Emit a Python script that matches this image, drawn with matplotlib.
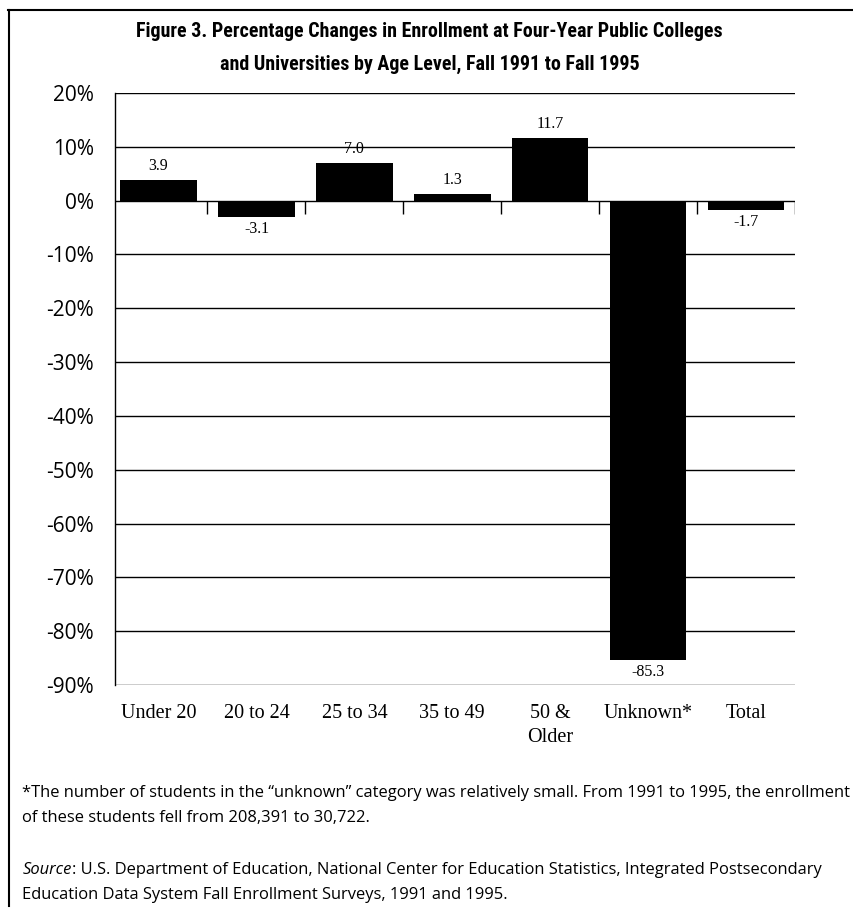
import numpy as np
import matplotlib
matplotlib.use("Agg")
import matplotlib.pyplot as plt
from matplotlib import font_manager
from matplotlib.lines import Line2D

# Data: percentage change in enrollment, fall 1991 to fall 1995
categories = ["Under 20", "20 to 24", "25 to 34", "35 to 49", "50 &\nOlder", "Unknown*", "Total"]
pct_change = [3.9, -3.1, 7.0, 1.3, 11.7, -85.3, -1.7]
y_ticks = [20, 10, 0, -10, -20, -30, -40, -50, -60, -70, -80, -90]
y_tick_labels = [f"{v}%" for v in y_ticks]

title_text = ("Figure 3. Percentage Changes in Enrollment at Four-Year Public Colleges\n"
              "and Universities by Age Level, Fall 1991 to Fall 1995")
note_line = ("*The number of students in the \u201cunknown\u201d category was relatively small. "
             "From 1991 to 1995, the enrollment\nof these students fell from 208,391 to 30,722.")
source_word = "Source"
source_line1 = (": U.S. Department of Education, National Center for Education Statistics, "
                "Integrated Postsecondary")
source_line2 = "Education Data System Fall Enrollment Surveys, 1991 and 1995."

available = {f.name for f in font_manager.fontManager.ttflist}


def pick(*names):
    for n in names:
        if n in available:
            return n
    return "DejaVu Sans"


narrow = pick("Liberation Sans Narrow", "Roboto Condensed", "Open Sans Condensed", "Liberation Sans")
sans = pick("Open Sans", "Noto Sans", "Lato", "DejaVu Sans")
serif = pick("Liberation Serif", "DejaVu Serif")

fig = plt.figure(figsize=(8.54, 9.11), dpi=100)
ax = fig.add_axes([0.1347, 0.2481, 0.7963, 0.6498])

x = np.arange(len(categories))
bars = ax.bar(x, pct_change, width=0.78, color="black", zorder=3)

ax.set_xlim(-0.444, len(categories) - 0.5)
ax.set_ylim(-90, 20)
ax.set_yticks(y_ticks)
ax.set_yticklabels(y_tick_labels, fontfamily=sans, fontsize=15)
ax.tick_params(axis="y", length=0, pad=15)
ax.grid(axis="y", color="black", linewidth=1.0, zorder=1)
ax.set_axisbelow(True)

ax.set_xticks(x)
ax.set_xticklabels(categories, fontfamily=serif, fontsize=14.5, linespacing=1.4)
ax.tick_params(axis="x", length=0, pad=13.5)
for lbl in ax.get_xticklabels():
    lbl.set_verticalalignment("top")

for side in ("top", "right", "bottom"):
    ax.spines[side].set_visible(False)
ax.spines["left"].set_linewidth(1.0)

# Short dividers hanging below the zero line between categories
ax.vlines(x + 0.5, 0, -2.4, color="black", linewidth=1.0, zorder=2)

# Value labels above positive bars, below negative bars
for xi, v in zip(x, pct_change):
    if v >= 0:
        ax.annotate(f"{v:.1f}", (xi, v), xytext=(0, 4), textcoords="offset points",
                    ha="center", va="bottom", fontfamily=serif, fontsize=11.5)
    else:
        ax.annotate(f"{v:.1f}", (xi, v), xytext=(0, -3), textcoords="offset points",
                    ha="center", va="top", fontfamily=serif, fontsize=11.5)

# Title
fig.text(0.503, 0.9475, title_text, ha="center", va="center", fontfamily=narrow,
         fontweight="bold", fontsize=14.4, linespacing=1.9)

# Notes
note_size = 11.85
fig.text(0.026, 0.1160, note_line, ha="left", va="center", fontfamily=sans,
         fontsize=note_size, linespacing=1.75)

src_y1 = 0.0405
src_y2 = 0.0130
src_word = fig.text(0.026, src_y1, source_word, ha="left", va="baseline", fontfamily=sans,
                    fontsize=note_size, style="italic")
fig.canvas.draw()
bb = src_word.get_window_extent()
fig.text(bb.x1 / fig.bbox.width, src_y1, source_line1, ha="left", va="baseline",
         fontfamily=sans, fontsize=note_size)
fig.text(0.026, src_y2, source_line2, ha="left", va="baseline",
         fontfamily=sans, fontsize=note_size)

# Page frame lines
fig.add_artist(Line2D([0.010, 0.010], [0.006, 0.989], color="black", linewidth=1.5,
                      transform=fig.transFigure))
fig.add_artist(Line2D([0.009, 1.0], [0.989, 0.989], color="black", linewidth=1.5,
                      transform=fig.transFigure))

fig.savefig("out.png", dpi=100)
